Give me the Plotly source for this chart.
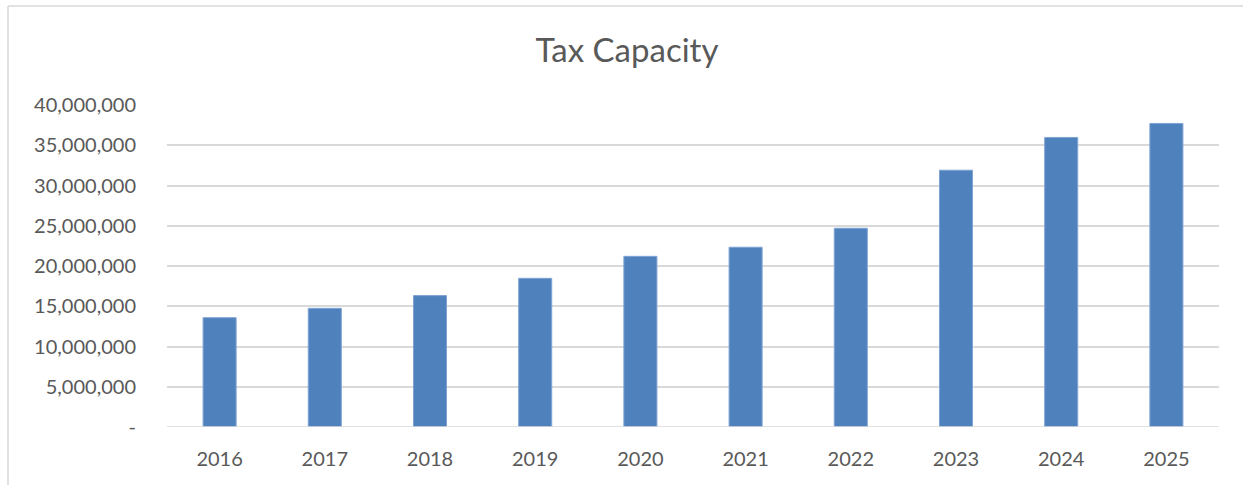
import plotly.graph_objects as go

years = ["2016", "2017", "2018", "2019", "2020", "2021", "2022", "2023", "2024", "2025"]
tax_capacity = [13580000, 14740000, 16320000, 18470000, 21200000,
                22330000, 24690000, 31900000, 35970000, 37710000]

y_tick_vals = [0, 5e6, 10e6, 15e6, 20e6, 25e6, 30e6, 35e6, 40e6]
y_tick_text = ["-", "5,000,000", "10,000,000", "15,000,000", "20,000,000",
               "25,000,000", "30,000,000", "35,000,000", "40,000,000"]

W, H = 1243, 485
ml, mr, mt, mb = 167, 24, 105, 58
pw, ph = W - ml - mr, H - mt - mb

def px_to_paper_x(px):
    return (px - ml) / pw

def px_to_paper_y(py):
    return (H - mb - py) / ph

font_family = "Lato, 'Open Sans', sans-serif"
text_color = "#595959"

fig = go.Figure(
    go.Bar(
        x=years,
        y=tax_capacity,
        marker=dict(color="#4F81BD", line=dict(color="#7FA3D3", width=1)),
    )
)

fig.update_layout(
    width=W,
    height=H,
    margin=dict(l=ml, r=mr, t=mt, b=mb),
    paper_bgcolor="white",
    plot_bgcolor="white",
    bargap=0.686,
    showlegend=False,
    title=dict(
        text="Tax Capacity",
        x=627 / W,
        xanchor="center",
        y=1 - 50 / H,
        yanchor="middle",
        font=dict(family=font_family, size=33, color=text_color),
    ),
    font=dict(family=font_family, color=text_color),
    xaxis=dict(
        showgrid=False,
        showline=False,
        zeroline=False,
        ticks="outside",
        ticklen=14,
        tickcolor="rgba(0,0,0,0)",
        tickfont=dict(size=20, color=text_color),
        fixedrange=True,
    ),
    yaxis=dict(
        range=[0, 40e6],
        tickvals=y_tick_vals,
        ticktext=y_tick_text,
        showgrid=True,
        gridcolor="#D9D9D9",
        gridwidth=1.5,
        zeroline=False,
        showline=False,
        ticks="outside",
        ticklen=26,
        tickcolor="rgba(0,0,0,0)",
        tickfont=dict(size=20, color=text_color),
        fixedrange=True,
    ),
    shapes=[
        # chart frame: left and top edges
        dict(type="line", xref="paper", yref="paper",
             x0=px_to_paper_x(8), x1=px_to_paper_x(8),
             y0=px_to_paper_y(6), y1=px_to_paper_y(H + 5),
             line=dict(color="#D9D9D9", width=1.5)),
        dict(type="line", xref="paper", yref="paper",
             x0=px_to_paper_x(8), x1=px_to_paper_x(W + 5),
             y0=px_to_paper_y(6), y1=px_to_paper_y(6),
             line=dict(color="#D9D9D9", width=1.5)),
        # baseline
        dict(type="line", xref="paper", yref="y",
             x0=0, x1=1, y0=0, y1=0,
             line=dict(color="#D9D9D9", width=1.5)),
    ],
)

fig.write_html("out.html")
